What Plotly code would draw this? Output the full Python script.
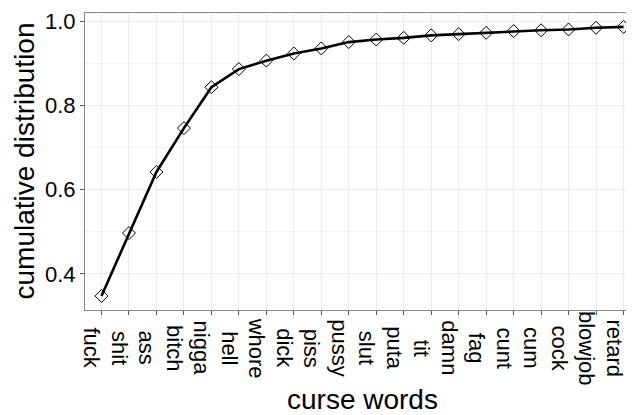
import plotly.graph_objects as go

words = ["fuck", "shit", "ass", "bitch", "nigga", "hell", "whore", "dick", "piss", "pussy",
         "slut", "puta", "tit", "damn", "fag", "cunt", "cum", "cock", "blowjob", "retard"]
cum_dist = [0.348, 0.497, 0.642, 0.746, 0.843, 0.886, 0.906, 0.923, 0.935, 0.950,
            0.956, 0.960, 0.966, 0.969, 0.972, 0.976, 0.978, 0.980, 0.984, 0.986]
y_ticks = [0.4, 0.6, 0.8, 1.0]
y_ticktext = ["0.4", "0.6", "0.8", "1.0"]

FONT = "Liberation Sans, Arial, Helvetica, sans-serif"
W, H = 634, 415
ML, MR, MT, MB = 77, 2, 5, 113
plot_h = H - MT - MB

fig = go.Figure()
fig.add_trace(go.Scatter(
    x=words, y=cum_dist, mode="lines+markers",
    line=dict(color="black", width=2.6),
    marker=dict(symbol="diamond-open", size=10, color="black", line=dict(width=1, color="black")),
    showlegend=False, cliponaxis=False,
))

annotations = []
for w in words:
    annotations.append(dict(
        x=w, xref="x", y=-(340 - (H - MB)) / plot_h, yref="paper",
        text=w, textangle=90, showarrow=False, xanchor="center", yanchor="middle",
        xshift=-9, font=dict(family=FONT, size=22, color="black"),
    ))
annotations.append(dict(
    x=0.5, xref="paper", y=-(391 - (H - MB)) / plot_h, yref="paper",
    text="curse words", showarrow=False, xanchor="center", yanchor="middle",
    font=dict(family=FONT, size=28, color="black"),
))
annotations.append(dict(
    x=-(ML - 16) / (W - ML - MR), xref="paper", y=0.5, yref="paper",
    text="cumulative distribution", textangle=-90, showarrow=False,
    xanchor="center", yanchor="middle",
    font=dict(family=FONT, size=28, color="black"),
))

fig.update_layout(
    width=W, height=H,
    margin=dict(l=ML, r=MR, t=MT, b=MB, pad=0),
    paper_bgcolor="white", plot_bgcolor="white",
    font=dict(family=FONT, size=22, color="black"),
    annotations=annotations,
    xaxis=dict(
        type="category", range=[-0.6, 19.6],
        showticklabels=False, ticks="outside", ticklen=4, tickcolor="#555555", tickwidth=1,
        showgrid=True, gridcolor="#EBEBEB", gridwidth=1,
        showline=True, linecolor="#888888", linewidth=1, mirror=True, zeroline=False,
    ),
    yaxis=dict(
        range=[0.3146, 1.019],
        tickvals=y_ticks, ticktext=y_ticktext,
        ticks="outside", ticklen=4, tickcolor="#555555", tickwidth=1,
        tickfont=dict(family=FONT, size=22, color="black"),
        showgrid=True, gridcolor="#EBEBEB", gridwidth=1,
        minor=dict(tickvals=[0.5, 0.7, 0.9], showgrid=True, gridcolor="#F3F3F3", gridwidth=0.6, ticks=""),
        showline=True, linecolor="#888888", linewidth=1, mirror=True, zeroline=False,
    ),
)

fig.write_html("out.html")
